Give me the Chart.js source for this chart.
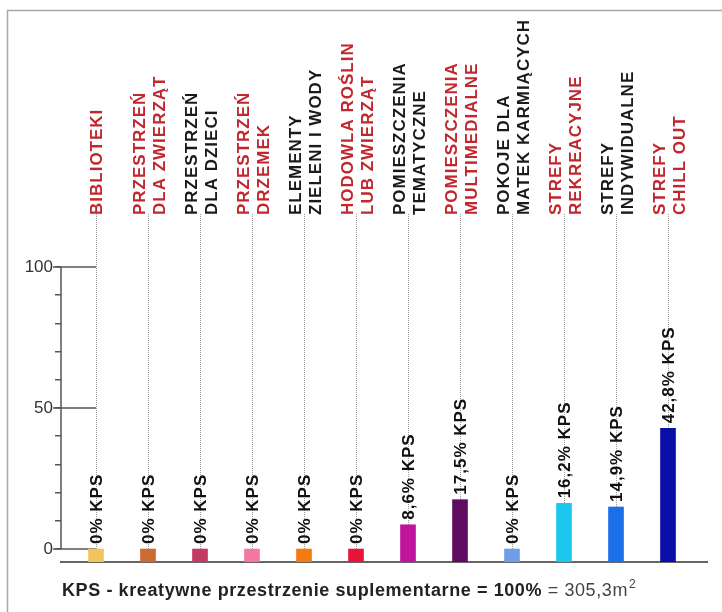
<!DOCTYPE html>
<html>
<head>
<meta charset="utf-8">
<script src="https://cdn.jsdelivr.net/npm/chart.js@4/dist/chart.umd.min.js"></script>
<style>
  html, body { margin: 0; padding: 0; background: #ffffff; }
  #wrap { width: 722px; height: 612px; }
</style>
</head>
<body>
<div id="wrap"><canvas id="c" width="722" height="612"></canvas></div>
<script>
// ---- data ----
const categories = [
  ['BIBLIOTEKI'],
  ['PRZESTRZEŃ', 'DLA ZWIERZĄT'],
  ['PRZESTRZEŃ', 'DLA DZIECI'],
  ['PRZESTRZEŃ', 'DRZEMEK'],
  ['ELEMENTY', 'ZIELENI I WODY'],
  ['HODOWLA ROŚLIN', 'LUB ZWIERZĄT'],
  ['POMIESZCZENIA', 'TEMATYCZNE'],
  ['POMIESZCZENIA', 'MULTIMEDIALNE'],
  ['POKOJE DLA', 'MATEK KARMIĄCYCH'],
  ['STREFY', 'REKREACYJNE'],
  ['STREFY', 'INDYWIDUALNE'],
  ['STREFY', 'CHILL OUT']
];
const values = [0, 0, 0, 0, 0, 0, 8.6, 17.5, 0, 16.2, 14.9, 42.8];
const barColors = ['#f3c45c', '#cc6a34', '#c23b62', '#f2789f', '#f47a12', '#e8143a',
                   '#c0149e', '#5e0b60', '#6e9ee8', '#1cc8f0', '#1b6fe8', '#0a0fa6'];
const labelColors = ['#c1272d', '#c1272d', '#1a1a1a', '#c1272d', '#1a1a1a', '#c1272d',
                     '#1a1a1a', '#c1272d', '#1a1a1a', '#c1272d', '#1a1a1a', '#c1272d'];
const yTickLabels = [0, 50, 100];
const unit = 'KPS';
const footerBold = 'KPS - kreatywne przestrzenie suplementarne = 100%';
const footerRegular = ' = 305,3m';
const footerSup = '2';

const Y_MIN = -4.6, Y_MAX = 100;
const FONT = '"Liberation Sans", Arial, sans-serif';

function valueText(v) {
  const s = v === 0 ? '0' : v.toFixed(1).replace('.', ',');
  return s + '% ' + unit;
}

const decor = {
  id: 'decor',
  beforeDraw(chart) {
    const ctx = chart.ctx;
    ctx.save();
    ctx.fillStyle = '#ffffff';
    ctx.fillRect(0, 0, chart.width, chart.height);
    // outer frame
    ctx.strokeStyle = '#a8a8a8';
    ctx.lineWidth = 1.5;
    ctx.beginPath();
    ctx.moveTo(7.5, chart.height);
    ctx.lineTo(7.5, 10.5);
    ctx.lineTo(chart.width, 10.5);
    ctx.stroke();
    ctx.restore();
  },
  beforeDatasetsDraw(chart) {
    const ctx = chart.ctx, xs = chart.scales.x, ys = chart.scales.y;
    ctx.save();
    // dotted leader lines
    ctx.strokeStyle = '#9a9a9a';
    ctx.lineWidth = 1;
    ctx.setLineDash([1, 1]);
    values.forEach((v, i) => {
      const x = Math.round(xs.getPixelForValue(i)) + 0.5;
      ctx.beginPath();
      ctx.moveTo(x, 214);
      ctx.lineTo(x, ys.getPixelForValue(Y_MIN));
      ctx.stroke();
    });
    ctx.setLineDash([]);
    // y axis line and major tick extensions
    ctx.strokeStyle = '#555555';
    ctx.lineWidth = 1.5;
    const ax = chart.chartArea.left;
    ctx.beginPath();
    ctx.moveTo(ax, ys.getPixelForValue(100));
    ctx.lineTo(ax, ys.getPixelForValue(0));
    ctx.stroke();
    const x0 = xs.getPixelForValue(0);
    yTickLabels.forEach(t => {
      const y = ys.getPixelForValue(t);
      ctx.beginPath();
      ctx.moveTo(ax - 8, y);
      ctx.lineTo(x0, y);
      ctx.stroke();
    });
    ctx.restore();
  },
  afterDatasetsDraw(chart) {
    const ctx = chart.ctx, xs = chart.scales.x, ys = chart.scales.y;
    ctx.save();
    ctx.letterSpacing = '1px';
    ctx.textAlign = 'left';
    ctx.textBaseline = 'middle';
    // value labels
    ctx.font = 'bold 17px ' + FONT;
    ctx.fillStyle = '#111111';
    values.forEach((v, i) => {
      const x = xs.getPixelForValue(i);
      const y = ys.getPixelForValue(v) - 5;
      ctx.save();
      ctx.translate(x + 1, y);
      ctx.rotate(-Math.PI / 2);
      ctx.fillText(valueText(v), 0, 0);
      ctx.restore();
    });
    // category labels
    categories.forEach((lines, i) => {
      const x = xs.getPixelForValue(i);
      ctx.fillStyle = labelColors[i];
      ctx.save();
      ctx.translate(x, 215);
      ctx.rotate(-Math.PI / 2);
      if (lines.length === 1) {
        ctx.fillText(lines[0], 0, 1);
      } else {
        ctx.fillText(lines[0], 0, -8);
        ctx.fillText(lines[1], 0, 12);
      }
      ctx.restore();
    });
    ctx.restore();
    // footer
    ctx.save();
    ctx.textBaseline = 'alphabetic';
    ctx.textAlign = 'left';
    ctx.letterSpacing = '0.6px';
    let fx = 62;
    const fy = 596;
    ctx.font = 'bold 18px ' + FONT;
    ctx.fillStyle = '#222222';
    ctx.fillText(footerBold, fx, fy);
    fx += ctx.measureText(footerBold).width;
    ctx.font = '18px ' + FONT;
    ctx.fillStyle = '#444444';
    ctx.fillText(footerRegular, fx, fy);
    fx += ctx.measureText(footerRegular).width;
    ctx.font = '12px ' + FONT;
    ctx.fillText(footerSup, fx + 1, fy - 8);
    ctx.restore();
  }
};

new Chart(document.getElementById('c'), {
  type: 'bar',
  data: {
    datasets: [{
      data: values.map((v, i) => ({ x: i, y: v })),
      backgroundColor: barColors,
      borderWidth: 0,
      barThickness: 15,
      base: Y_MIN
    }]
  },
  options: {
    responsive: false,
    animation: false,
    layout: { padding: { top: 267, right: 15, bottom: 50, left: 0 } },
    plugins: { legend: { display: false }, tooltip: { enabled: false } },
    scales: {
      x: {
        type: 'linear',
        offset: false,
        min: -0.673,
        max: 11.75,
        grid: { display: false, offset: false },
        ticks: { display: false },
        border: { display: true, color: '#666666', width: 2 },
        afterFit(scale) { scale.height = 0; }
      },
      y: {
        min: Y_MIN,
        max: Y_MAX,
        afterBuildTicks(scale) {
          const t = [];
          for (let v = 0; v <= 100; v += 10) t.push({ value: v });
          scale.ticks = t;
        },
        afterFit(scale) { scale.width = 61; },
        border: { display: false },
        grid: {
          drawOnChartArea: false,
          drawTicks: true,
          tickLength: 6,
          color: '#555555',
          lineWidth: 1.5
        },
        ticks: {
          padding: 2,
          color: '#333333',
          font: { family: FONT, size: 17 },
          callback: (v) => (yTickLabels.includes(v) ? String(v) : '')
        }
      }
    }
  },
  plugins: [decor]
});
</script>
</body>
</html>
